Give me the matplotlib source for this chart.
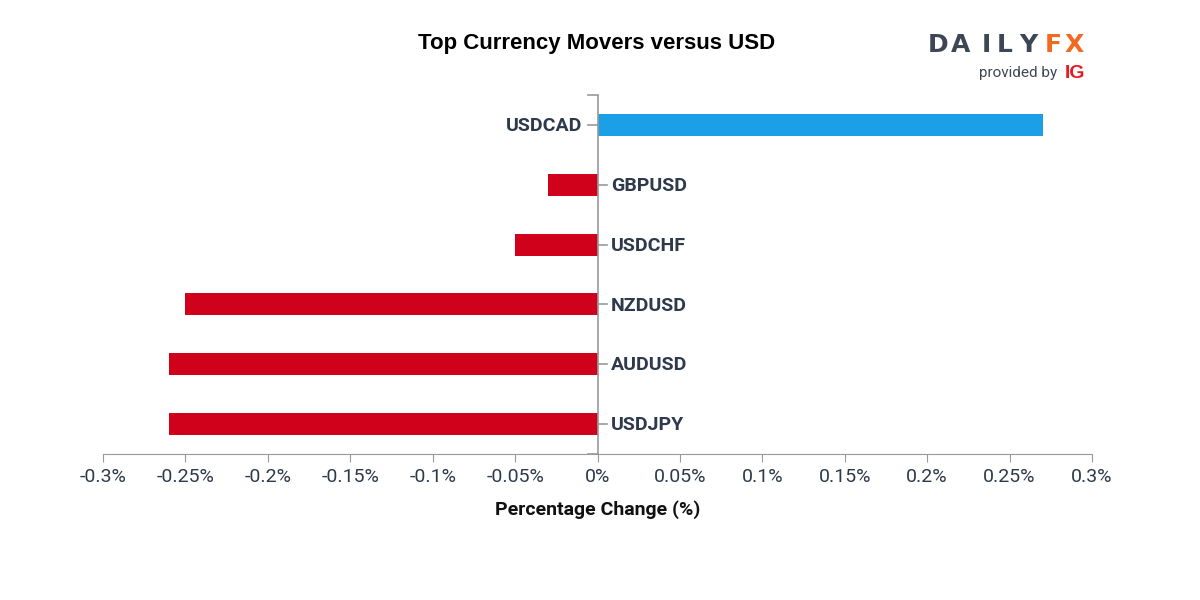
import matplotlib
matplotlib.use("Agg")
from matplotlib import pyplot as plt
from matplotlib import font_manager
import numpy as np

pairs = ['USDCAD', 'GBPUSD', 'USDCHF', 'NZDUSD', 'AUDUSD', 'USDJPY']
changes = [0.27, -0.03, -0.05, -0.25, -0.26, -0.26]
xticks = [-0.3, -0.25, -0.2, -0.15, -0.1, -0.05, 0, 0.05, 0.1, 0.15, 0.2, 0.25, 0.3]
xtick_labels = ['-0.3%', '-0.25%', '-0.2%', '-0.15%', '-0.1%', '-0.05%', '0%',
                '0.05%', '0.1%', '0.15%', '0.2%', '0.25%', '0.3%']

names = {f.name for f in font_manager.fontManager.ttflist}
cond = 'Liberation Sans Narrow' if 'Liberation Sans Narrow' in names else 'Roboto'

text_col = '#2e3a4b'
axis_col = '#999999'

fig = plt.figure(figsize=(12, 6), dpi=100)
ax = fig.add_axes([103 / 1200, 146 / 600, 989 / 1200, 359 / 600])

y = np.arange(len(pairs))
colors = ['#1b9fe6' if v > 0 else '#d0021b' for v in changes]
ax.barh(y, changes, height=0.37, color=colors)

ax.set_xlim(-0.3, 0.3)
ax.set_ylim(len(pairs) - 0.5, -0.5)
ax.set_xticks(xticks)
ax.set_xticklabels(xtick_labels, family=cond, fontsize=14, color=text_col)
ax.tick_params(axis='x', length=6, color=axis_col, pad=4)

ax.set_yticks([])
for s in ['top', 'right', 'left']:
    ax.spines[s].set_visible(False)
ax.spines['bottom'].set_color(axis_col)

# y axis at zero, category labels on the side away from the bar
ax.axvline(0, color=axis_col, lw=1.2)
ax.plot([-0.006, 0], [-0.5, -0.5], color=axis_col, lw=1.2, clip_on=False)
ax.plot([-0.006, 0], [len(pairs) - 0.5, len(pairs) - 0.5], color=axis_col, lw=1.2, clip_on=False)
for i, (p, v) in enumerate(zip(pairs, changes)):
    if v > 0:
        ax.plot([-0.006, 0], [i, i], color=axis_col, lw=1.2)
        ax.text(-0.009, i + 0.02, p, ha='right', va='center', family=cond,
                fontsize=14, fontweight='bold', color=text_col)
    else:
        ax.plot([0, 0.006], [i, i], color=axis_col, lw=1.2)
        ax.text(0.008, i + 0.02, p, ha='left', va='center', family=cond,
                fontsize=14, fontweight='bold', color=text_col)

ax.set_xlabel('Percentage Change (%)', family=cond, fontsize=14,
              fontweight='bold', color='#111111', labelpad=10)

fig.text(597 / 1200, 1 - 44 / 600, 'Top Currency Movers versus USD', ha='center',
         va='center', fontsize=16, fontweight='bold', family='Liberation Sans', color='#000000')

# logo, letter by letter for the wide spacing
logo_letters = ['D', 'A', 'I', 'L', 'Y', 'F', 'X']
logo_x = [938, 961, 986, 1005, 1028, 1053, 1074]
for ch, lx in zip(logo_letters, logo_x):
    fig.text(lx / 1200, 1 - 45 / 600, ch, ha='center', va='center', fontsize=18,
             fontweight='bold', family='DejaVu Sans',
             color='#f26a21' if ch in 'FX' else '#3d4654')
fig.text(1057 / 1200, 1 - 73 / 600, 'provided by', ha='right', va='center', fontsize=11,
         family='Roboto', color='#3d4654')
fig.text(1065 / 1200, 1 - 73 / 600, 'IG', ha='left', va='center', fontsize=14,
         fontweight='bold', family='Liberation Sans', color='#e31b23')

fig.savefig('out.png', dpi=100)
